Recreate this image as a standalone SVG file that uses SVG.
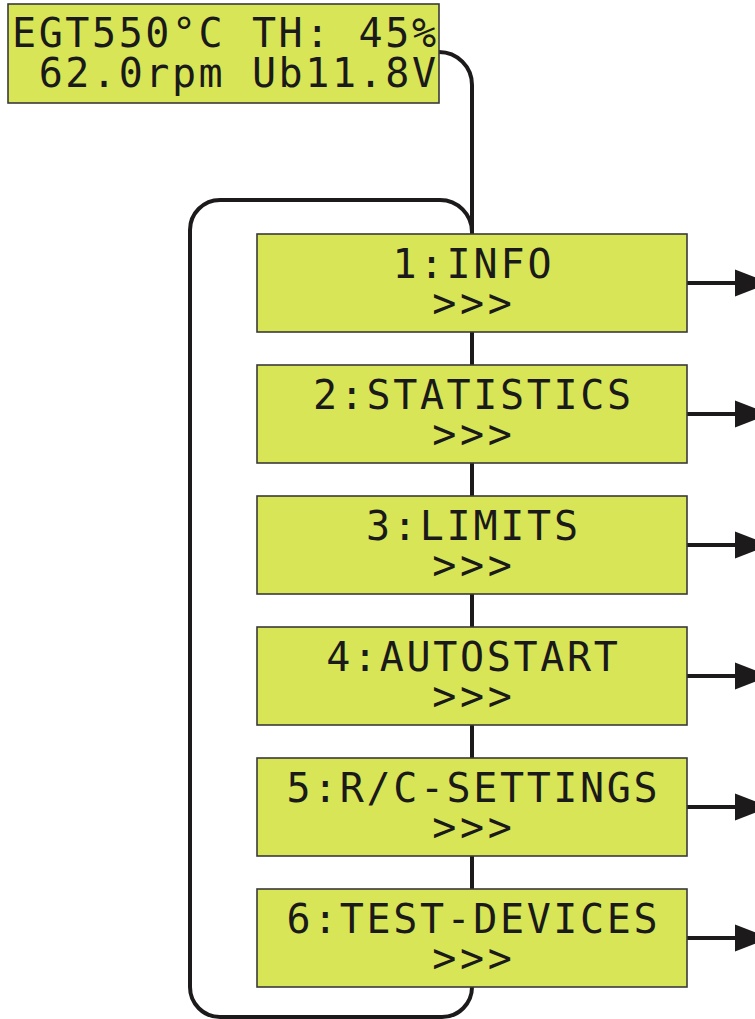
<svg xmlns="http://www.w3.org/2000/svg" width="755" height="1019" viewBox="0 0 755 1019">
<defs>
<style>
.lcd{fill:#d8e557;stroke:#3a3a3a;stroke-width:1.6}
.t{font-family:"DejaVu Sans Mono","Liberation Mono",monospace;font-size:40px;fill:#1a1a1a}
.c{text-anchor:middle}
.ln{fill:none;stroke:#1c1a1a;stroke-width:4}
.ah{fill:#1c1a1a}
</style>
</defs>
<rect width="755" height="1019" fill="#ffffff"/>
<g id="connectors">
<path class="ln" d="M439,52 A33,33 0 0 1 472,85 V987"/>
<path class="ln" d="M472,232 A32,32 0 0 0 440,200 H220 A30,30 0 0 0 190,230 V987 A30,30 0 0 0 220,1017 H442 A30,30 0 0 0 472,987"/>
<path class="ln" d="M687,283 H737 M687,414 H737 M687,545 H737 M687,676 H737 M687,807 H737 M687,938 H737"/>
<polygon class="ah" points="735,269.5 770,283 735,296.5"/>
<polygon class="ah" points="735,400.5 770,414 735,427.5"/>
<polygon class="ah" points="735,531.5 770,545 735,558.5"/>
<polygon class="ah" points="735,662.5 770,676 735,689.5"/>
<polygon class="ah" points="735,793.5 770,807 735,820.5"/>
<polygon class="ah" points="735,924.5 770,938 735,951.5"/>
</g>
<g id="status">
<rect class="lcd" x="8" y="4" width="431" height="99"/>
<text class="t" x="12" y="47" textLength="424" lengthAdjust="spacing" xml:space="preserve">EGT550°C TH: 45%</text>
<text class="t" x="12" y="87" textLength="424" lengthAdjust="spacing" xml:space="preserve"> 62.0rpm Ub11.8V</text>
</g>
<g id="m1">
<rect class="lcd" x="257" y="234" width="430" height="98"/>
<text class="t c" x="472" y="278" textLength="159" lengthAdjust="spacing">1:INFO</text>
<text class="t c" x="472" y="317" textLength="79.5" lengthAdjust="spacing">&gt;&gt;&gt;</text>
</g>
<g id="m2">
<rect class="lcd" x="257" y="365" width="430" height="98"/>
<text class="t c" x="472" y="409" textLength="318" lengthAdjust="spacing">2:STATISTICS</text>
<text class="t c" x="472" y="448" textLength="79.5" lengthAdjust="spacing">&gt;&gt;&gt;</text>
</g>
<g id="m3">
<rect class="lcd" x="257" y="496" width="430" height="98"/>
<text class="t c" x="472" y="540" textLength="212" lengthAdjust="spacing">3:LIMITS</text>
<text class="t c" x="472" y="579" textLength="79.5" lengthAdjust="spacing">&gt;&gt;&gt;</text>
</g>
<g id="m4">
<rect class="lcd" x="257" y="627" width="430" height="98"/>
<text class="t c" x="472" y="671" textLength="291.5" lengthAdjust="spacing">4:AUTOSTART</text>
<text class="t c" x="472" y="710" textLength="79.5" lengthAdjust="spacing">&gt;&gt;&gt;</text>
</g>
<g id="m5">
<rect class="lcd" x="257" y="758" width="430" height="98"/>
<text class="t c" x="472" y="802" textLength="371" lengthAdjust="spacing">5:R/C-SETTINGS</text>
<text class="t c" x="472" y="841" textLength="79.5" lengthAdjust="spacing">&gt;&gt;&gt;</text>
</g>
<g id="m6">
<rect class="lcd" x="257" y="889" width="430" height="98"/>
<text class="t c" x="472" y="933" textLength="371" lengthAdjust="spacing">6:TEST-DEVICES</text>
<text class="t c" x="472" y="972" textLength="79.5" lengthAdjust="spacing">&gt;&gt;&gt;</text>
</g>
</svg>
